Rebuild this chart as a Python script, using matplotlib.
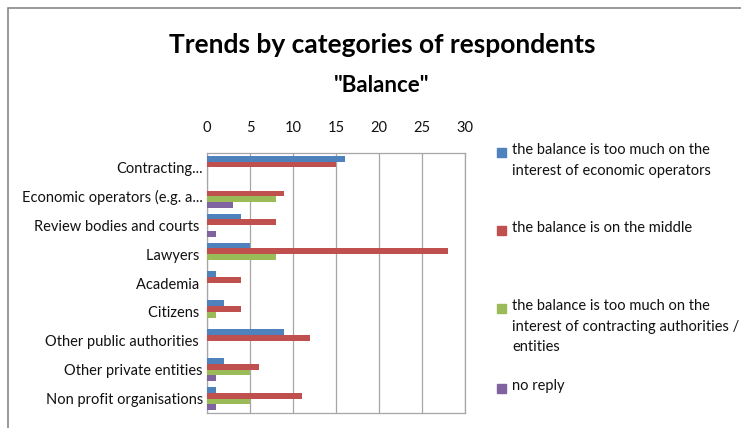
import numpy as np
import matplotlib.pyplot as plt
from matplotlib.patches import Rectangle

plt.rcParams['font.family'] = ['Lato', 'DejaVu Sans']

# Data
categories = ["Contracting...", "Economic operators (e.g. a...", "Review bodies and courts ",
              "Lawyers ", "Academia ", "Citizens ", "Other public authorities ",
              "Other private entities", "Non profit organisations"]
too_much_economic = [16, 0, 4, 5, 1, 2, 9, 2, 1]
middle = [15, 9, 8, 28, 4, 4, 12, 6, 11]
too_much_contracting = [0, 8, 0, 8, 0, 1, 0, 5, 5]
no_reply = [0, 3, 1, 0, 0, 0, 0, 1, 1]

series = [too_much_economic, middle, too_much_contracting, no_reply]
labels = ["the balance is too much on the\ninterest of economic operators",
          "the balance is on the middle",
          "the balance is too much on the\ninterest of contracting authorities /\nentities",
          "no reply"]
colors = ["#4F81BD", "#C0504D", "#9BBB59", "#8064A2"]

fig = plt.figure(figsize=(7.41, 4.28), dpi=100)
W, H = 741, 428
ax = fig.add_axes([207 / W, 1 - 413 / H, (465 - 207) / W, (413 - 153) / H])

y = np.arange(len(categories))
h = 0.2
for i, (vals, c) in enumerate(zip(series, colors)):
    ax.barh(y - 0.3 + i * h, vals, height=h, color=c, zorder=3)

ax.set_xlim(0, 30)
ax.set_ylim(len(categories) - 0.5, -0.5)
ax.set_xticks(range(0, 31, 5))
ax.xaxis.tick_top()
ax.tick_params(axis='x', length=0, pad=13, labelsize=10.5, colors='#111111')
ax.set_yticks(y)
ax.set_yticklabels(categories, fontsize=10.5, color='#111111')
ax.tick_params(axis='y', length=0, pad=3)
ax.grid(axis='x', color='#A6A6A6', lw=0.9, zorder=0)
for s in ax.spines.values():
    s.set_color('#A6A6A6')
    s.set_linewidth(0.9)

fig.text(382 / W, 1 - 45 / H, "Trends by categories of respondents", ha='center', va='center',
         fontsize=19, fontweight='bold')
fig.text(382 / W, 1 - 85 / H, "\"Balance\"", ha='center', va='center',
         fontsize=16, fontweight='bold')

# legend entries placed by hand like the Excel layout
leg_tops = [152, 230, 308, 388]
for lab, c, top in zip(labels, colors, leg_tops):
    fig.patches.append(Rectangle((497 / W, 1 - (top + 5) / H), 9 / W, 9 / H,
                                 transform=fig.transFigure, color=c))
    fig.text(512 / W, 1 - (top - 9) / H, lab, ha='left', va='top', fontsize=10.5,
             color='#111111', linespacing=1.6)

# outer chart frame
fig.patches.append(Rectangle((8 / W, -0.1), 1.2, 1 - 8 / H + 0.1, transform=fig.transFigure,
                             fill=False, edgecolor='#888888', lw=1.2))

fig.savefig("out.png", dpi=100)
